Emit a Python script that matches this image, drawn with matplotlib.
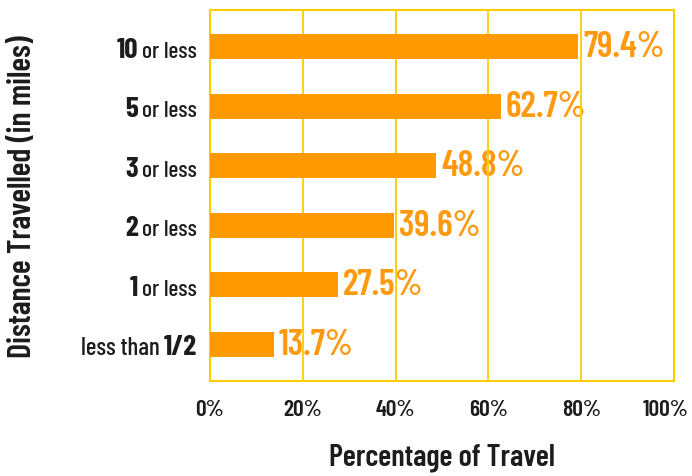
import numpy as np
import matplotlib
matplotlib.use("Agg")
import matplotlib.pyplot as plt
import matplotlib.transforms as mtrans

# data
numbers = ["10", "5", "3", "2", "1", "1/2"]
suffixes = ["or less", "or less", "or less", "or less", "or less", "less than"]
values = [79.4, 62.7, 48.8, 39.6, 27.5, 13.7]
xticks = [0, 20, 40, 60, 80, 100]

FONT = ["Barlow Condensed", "DejaVu Sans"]
plt.rcParams["font.family"] = FONT

orange = "#ff9900"
yellow = "#ffcc00"
dark = "#1c1c1c"

fig = plt.figure(figsize=(6.92, 4.77), dpi=100)
ax = fig.add_axes([210/692, 1 - 382/477, 464/692, 371/477])

y = np.arange(len(values))[::-1]
ax.barh(y, values, height=0.42, color=orange, zorder=3)
ax.set_xlim(0, 100)
ax.set_ylim(-0.62, len(values) - 1 + 0.62)
ax.set_xticks(xticks)
ax.set_xticklabels(["%d%%" % t for t in xticks], fontsize=17,
                   fontweight="semibold", color=dark)
ax.set_yticks([])
ax.set_axisbelow(False)
ax.grid(axis="x", color=yellow, lw=1.3)
for s in ax.spines.values():
    s.set_color(yellow)
    s.set_linewidth(1.5)
ax.tick_params(length=0, pad=13)

# the last tick label sits a bit left so it stays inside the picture
lab = ax.get_xticklabels()[-1]
lab.set_transform(lab.get_transform() +
                  mtrans.ScaledTranslation(-8/100, 0, fig.dpi_scale_trans))

# value labels (under the grid lines, like the original)
for yi, v in zip(y, values):
    ax.annotate("%.1f%%" % v, xy=(v, yi), xytext=(5, 0),
                textcoords="offset pixels", ha="left", va="center",
                fontsize=26, fontweight="semibold", color="#ff9a10",
                zorder=2)

# two-part category labels
for yi, num, suf in zip(y, numbers, suffixes):
    if suf == "or less":
        t = ax.annotate(suf, xy=(0, yi), xycoords=("axes fraction", "data"),
                        xytext=(-13, -10), textcoords="offset pixels",
                        ha="right", va="baseline", fontsize=17,
                        fontweight="medium", color=dark)
        ax.annotate(num, xy=(0, yi), xycoords=(t, "data"),
                    xytext=(-4, -10), textcoords="offset pixels",
                    ha="right", va="baseline", fontsize=21,
                    fontweight="bold", color=dark)
    else:
        t = ax.annotate(num, xy=(0, yi), xycoords=("axes fraction", "data"),
                        xytext=(-13, -10), textcoords="offset pixels",
                        ha="right", va="baseline", fontsize=21,
                        fontweight="bold", color=dark)
        ax.annotate(suf, xy=(0, yi), xycoords=(t, "data"),
                    xytext=(-4, -10), textcoords="offset pixels",
                    ha="right", va="baseline", fontsize=18,
                    fontweight="medium", color=dark)

ax.set_xlabel("Percentage of Travel", fontsize=22, fontweight="semibold",
              color=dark, labelpad=17)
fig.text(23/692, 1 - 197/477, "Distance Travelled (in miles)", rotation=90,
         ha="center", va="center", fontsize=23, fontweight="semibold",
         color=dark)

fig.savefig("out.png")
